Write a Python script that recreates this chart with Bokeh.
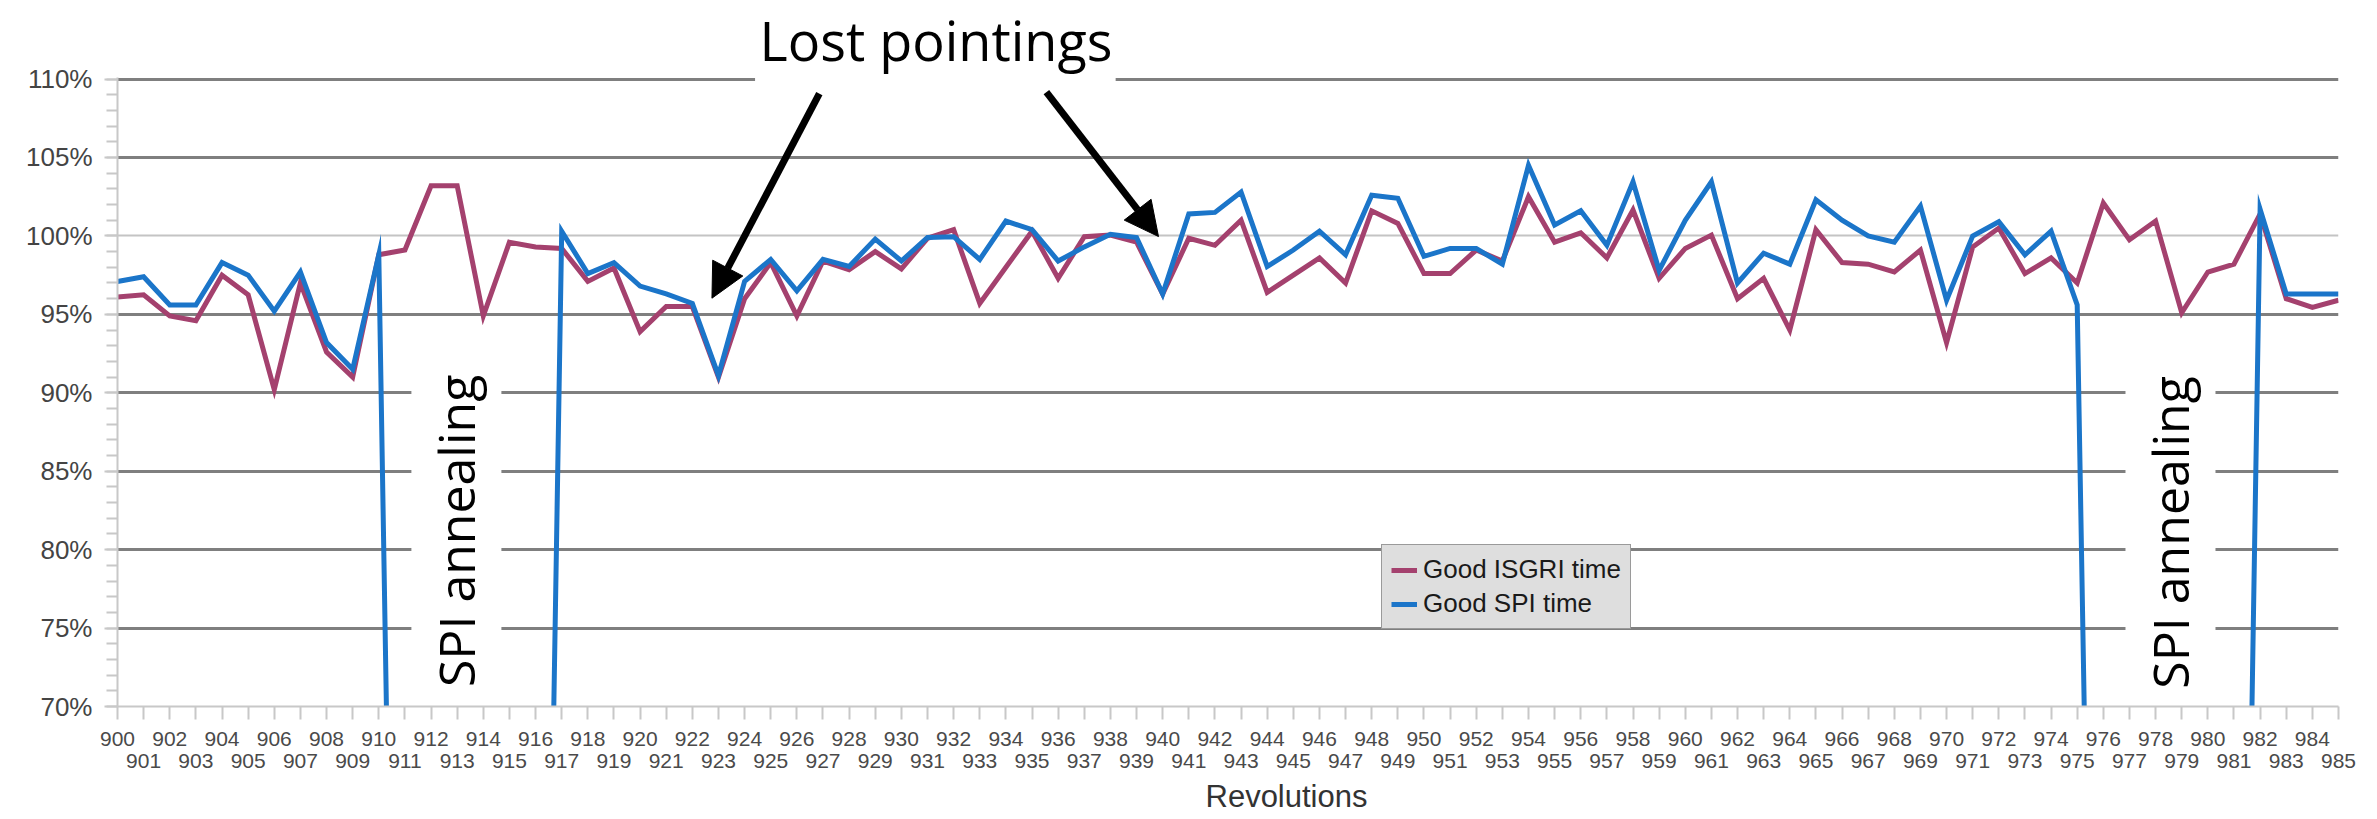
from math import pi
from bokeh.plotting import figure
from bokeh.models import (Range1d, FixedTicker, LinearAxis, Grid, Label, Arrow, NormalHead,
                          SingleIntervalTicker, PrintfTickFormatter, Legend, LegendItem,
                          Title, BoxAnnotation)
from bokeh.embed import file_html
from bokeh.resources import INLINE

revolutions = list(range(900, 986))

isgri = [96.1, 96.25, 94.9, 94.6, 97.5, 96.25, 90.2, 97.0, 92.6, 91.0,
         98.8, 99.1, 103.2, 103.2, 94.9, 99.6, 99.3, 99.2, 97.1, 97.95,
         93.9, 95.5, 95.5, 91.0, 96.0, 98.3, 94.9, 98.4, 97.85, 99.0,
         97.9, 99.85, 100.4, 95.7, 98.0, 100.3, 97.3, 99.95, 100.05, 99.6,
         96.3, 99.85, 99.4, 101.0, 96.4, 97.5, 98.6, 97.0, 101.6, 100.8,
         97.6, 97.6, 99.1, 98.4, 102.5, 99.6, 100.2, 98.6, 101.65, 97.3,
         99.2, 100.05, 96.0, 97.3, 94.0, 100.4, 98.3, 98.2, 97.7, 99.1,
         93.2, 99.3, 100.5, 97.6, 98.6, 97.0, 102.1, 99.75, 100.95, 95.1,
         97.7, 98.2, 101.4, 96.0, 95.45, 95.9]

spi = [97.1, 97.4, 95.6, 95.6, 98.3, 97.5, 95.2, 97.7, 93.2, 91.5,
       98.8, 0, 0, 0, 0, 0, 0, 100.3, 97.6, 98.3,
       96.8, 96.3, 95.7, 91.1, 97.1, 98.5, 96.5, 98.5, 98.05, 99.8,
       98.4, 99.9, 99.95, 98.5, 100.95, 100.4, 98.4, 99.3, 100.1, 99.9,
       96.3, 101.4, 101.5, 102.8, 98.05, 99.1, 100.3, 98.8, 102.6, 102.4,
       98.7, 99.2, 99.2, 98.2, 104.5, 100.7, 101.6, 99.4, 103.45, 97.8,
       101.0, 103.45, 97.0, 98.9, 98.2, 102.3, 101.0, 100.0, 99.6, 101.9,
       95.9, 100.0, 100.9, 98.8, 100.3, 95.6, 0, 0, 0, 0,
       0, 0, 101.7, 96.3, 96.3, 96.3]

series_names = ["Good ISGRI time", "Good SPI time"]
x_title = "Revolutions"

FONT = "Liberation Sans"
ANN_FONT = "Open Sans"
BLUE = "#1b75c9"
MAGENTA = "#a4416e"

title = Title(text="Lost pointings", align="left", offset=642, standoff=1,
              vertical_align="bottom", text_font=ANN_FONT, text_font_size="54px",
              text_font_style="normal", text_color="black",
              background_fill_color="white")

p = figure(width=2377, height=819,
           x_range=Range1d(900, 985), y_range=Range1d(70, 110.1),
           x_axis_type=None, y_axis_type=None, title=title,
           output_backend="svg", toolbar_location=None,
           min_border_left=117, min_border_right=39,
           min_border_top=75, min_border_bottom=113)
p.outline_line_color = None
p.background_fill_color = "white"
p.border_fill_color = "white"

# y axis
yaxis = LinearAxis(ticker=SingleIntervalTicker(interval=5, num_minor_ticks=5),
                   formatter=PrintfTickFormatter(format="%d%%"))
yaxis.axis_line_color = "#c8c8c8"
yaxis.axis_line_width = 2
yaxis.major_tick_line_color = "#c8c8c8"
yaxis.minor_tick_line_color = "#c8c8c8"
yaxis.major_tick_line_width = 2
yaxis.minor_tick_line_width = 2
yaxis.major_tick_out = 13
yaxis.major_tick_in = 0
yaxis.minor_tick_out = 11
yaxis.minor_tick_in = 0
yaxis.major_label_standoff = 12
yaxis.major_label_text_font = FONT
yaxis.major_label_text_font_size = "26px"
yaxis.major_label_text_color = "#444444"
p.add_layout(yaxis, "left")

# x axis: even labels on first row, odd labels on second row
xaxis1 = LinearAxis(ticker=FixedTicker(ticks=revolutions, minor_ticks=[]),
                    major_label_overrides={r: ("" if r % 2 else str(r)) for r in revolutions})
xaxis1.axis_line_color = "#c8c8c8"
xaxis1.axis_line_width = 2
xaxis1.major_tick_line_color = "#c8c8c8"
xaxis1.major_tick_line_width = 2
xaxis1.major_tick_out = 13
xaxis1.major_tick_in = 0
xaxis1.major_label_standoff = 12
xaxis1.major_label_text_font = FONT
xaxis1.major_label_text_font_size = "21px"
xaxis1.major_label_text_color = "#4a4a4a"
p.add_layout(xaxis1, "below")

odd = [r for r in revolutions if r % 2]
xaxis2 = LinearAxis(ticker=FixedTicker(ticks=odd, minor_ticks=[]))
xaxis2.axis_line_color = None
xaxis2.major_tick_line_color = None
xaxis2.major_tick_out = 0
xaxis2.major_tick_in = 0
xaxis2.major_label_standoff = 5
xaxis2.major_label_text_font = FONT
xaxis2.major_label_text_font_size = "21px"
xaxis2.major_label_text_color = "#4a4a4a"
p.add_layout(xaxis2, "below")

p.add_layout(Title(text=x_title, align="left", offset=1088, standoff=12,
                   text_font=FONT, text_font_size="31px", text_font_style="normal",
                   text_color="#333333"), "below")

# grid lines
g1 = Grid(dimension=1, ticker=FixedTicker(ticks=[75, 80, 85, 90, 95, 105, 110]),
          grid_line_color="#7f7f7f", grid_line_width=3)
g2 = Grid(dimension=1, ticker=FixedTicker(ticks=[100]),
          grid_line_color="#c4c4c4", grid_line_width=2)
p.add_layout(g1)
p.add_layout(g2)

r1 = p.line(revolutions, isgri, line_color=MAGENTA, line_width=5, line_join="miter")
r2 = p.line(revolutions, spi, line_color=BLUE, line_width=5, line_join="miter")

legend = Legend(items=[LegendItem(label=series_names[0], renderers=[r1]),
                       LegendItem(label=series_names[1], renderers=[r2])],
                location=(1264, 77))
legend.background_fill_color = "#dedede"
legend.background_fill_alpha = 1.0
legend.border_line_color = "#555555"
legend.border_line_width = 1.5
legend.label_text_font = FONT
legend.label_text_font_size = "26px"
legend.label_text_color = "#1a1a1a"
legend.glyph_width = 26
legend.glyph_height = 26
legend.label_height = 26
legend.label_standoff = 6
legend.spacing = 3
legend.padding = 9
legend.margin = 0
p.add_layout(legend)

# white gap in the top grid line below the "Lost pointings" text
p.add_layout(BoxAnnotation(left=924.4, right=938.2, bottom=109.6, top=110.1,
                           fill_color="white", fill_alpha=1.0, line_color=None,
                           level="overlay"))

for ax, ay in [(912.97, 81.2), (978.57, 81.1)]:
    p.add_layout(Label(x=ax, y=ay, text="SPI annealing", angle=pi / 2, angle_units="rad",
                       text_font=ANN_FONT, text_font_size="50px", text_color="black",
                       text_align="center", text_baseline="middle",
                       background_fill_color="white", padding=11))

for xs, ys, xe, ye in [(926.86, 109.07, 922.75, 96.03), (935.55, 109.17, 939.84, 99.96)]:
    p.add_layout(Arrow(end=NormalHead(size=34, fill_color="black", line_color="black"),
                       x_start=xs, y_start=ys, x_end=xe, y_end=ye,
                       line_width=7, line_color="black"))

open("out.html", "w").write(file_html(p, INLINE))
